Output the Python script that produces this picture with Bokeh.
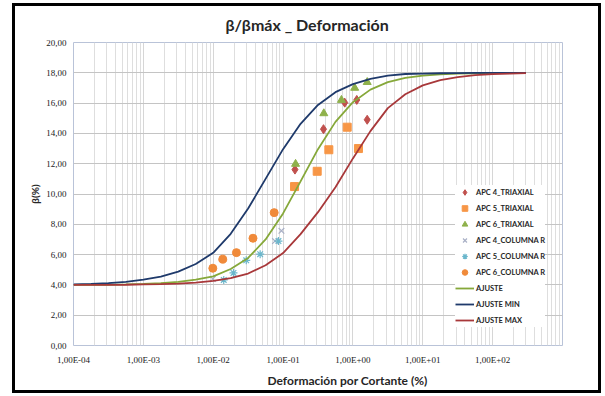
from bokeh.plotting import figure
from bokeh.layouts import column
from bokeh.models import Range1d, FixedTicker, Title
from bokeh.embed import file_html
from bokeh.resources import INLINE

# ---------------- data ----------------
apc4_tri_x = [0.148, 0.379, 0.763, 1.135, 1.60]
apc4_tri_y = [11.61, 14.28, 16.03, 16.21, 14.90]
apc5_tri_x = [0.146, 0.308, 0.452, 0.828, 1.20]
apc5_tri_y = [10.49, 11.50, 12.92, 14.41, 13.00]
apc6_tri_x = [0.151, 0.383, 0.685, 1.06, 1.60]
apc6_tri_y = [11.98, 15.32, 16.20, 17.00, 17.38]
apc4_col_x = [0.00987, 0.0766, 0.0948]
apc4_col_y = [4.39, 6.89, 7.57]
apc5_col_x = [0.01415, 0.0195, 0.0297, 0.047, 0.0859]
apc5_col_y = [4.33, 4.79, 5.62, 6.03, 6.89]
apc6_col_x = [0.00987, 0.0137, 0.0215, 0.0371, 0.0746]
apc6_col_y = [5.10, 5.70, 6.13, 7.08, 8.77]

fit_x = [0.0001, 0.000178, 0.000316, 0.000562, 0.001, 0.00178, 0.00316, 0.00562,
         0.01, 0.0178, 0.0316, 0.0562, 0.1, 0.178, 0.316, 0.562,
         1, 1.78, 3.16, 5.62, 10, 17.8, 31.6, 56.2, 100, 178, 300]
ajuste_y = [4.0, 4.01, 4.01, 4.03, 4.07, 4.12, 4.2, 4.35,
            4.56, 5.05, 5.78, 7.0, 8.72, 10.83, 12.96, 14.76,
            16.06, 16.89, 17.38, 17.66, 17.82, 17.9, 17.95, 17.97, 17.99, 18.0, 18.0]
ajuste_min_y = [4.04, 4.07, 4.12, 4.2, 4.35, 4.55, 4.88, 5.38,
                6.12, 7.37, 9.04, 11.0, 12.96, 14.63, 15.88, 16.72,
                17.25, 17.6, 17.82, 17.92, 17.95, 17.97, 17.98, 17.99, 18.0, 18.0, 18.0]
ajuste_max_y = [4.0, 4.0, 4.0, 4.01, 4.03, 4.05, 4.09, 4.15,
                4.27, 4.45, 4.75, 5.3, 6.1, 7.35, 8.8, 10.45,
                12.35, 14.15, 15.67, 16.58, 17.17, 17.52, 17.72, 17.84, 17.91, 17.95, 17.98]

y_ticks = [0, 2, 4, 6, 8, 10, 12, 14, 16, 18, 20]
y_tick_labels = ["0,00", "2,00", "4,00", "6,00", "8,00", "10,00", "12,00",
                 "14,00", "16,00", "18,00", "20,00"]
x_ticks = [0.0001, 0.001, 0.01, 0.1, 1.0, 10.0, 100.0, 1000.0]
x_tick_labels = ["1,00E-04", "1,00E-03", "1,00E-02", "1,00E-01", "1,00E+00",
                 "1,00E+01", "1,00E+02", ""]
x_minor = [k * 10.0 ** e for e in range(-4, 3) for k in range(2, 10)]

# ---------------- figure ----------------
p = figure(width=583, height=384, x_axis_type="log",
           x_range=Range1d(1e-4, 1e3), y_range=Range1d(0, 20),
           output_backend="svg", toolbar_location=None,
           min_border_left=58, min_border_right=36,
           min_border_top=36, min_border_bottom=43,
           background_fill_color="white", border_fill_color="white")

p.title.text = "β/βmáx _ Deformación"
p.title.align = "left"
p.title.offset = 152
p.title.vertical_align = "top"
p.title.standoff = 14
p.title.text_font = "Lato"
p.title.text_font_size = "16px"
p.title.text_font_style = "bold"
p.title.text_color = "#262626"

xt = FixedTicker(ticks=x_ticks, minor_ticks=x_minor)
p.xaxis.ticker = xt
p.xgrid.ticker = xt
p.xaxis.major_label_overrides = dict(zip(x_ticks, x_tick_labels))
yt = FixedTicker(ticks=y_ticks)
p.yaxis.ticker = yt
p.ygrid.ticker = yt
p.yaxis.major_label_overrides = dict(zip(y_ticks, y_tick_labels))

for ax in (p.xaxis[0], p.yaxis[0]):
    ax.axis_line_color = None
    ax.major_tick_line_color = None
    ax.minor_tick_line_color = None
    ax.major_tick_out = 0
    ax.major_tick_in = 0
    ax.minor_tick_out = 0
    ax.minor_tick_in = 0
    ax.major_label_text_font = "Liberation Serif"
    ax.major_label_text_font_size = "9px"
    ax.major_label_text_color = "#1a1a1a"
p.xaxis.major_label_standoff = 9
p.yaxis.major_label_standoff = 7

p.yaxis.axis_label = "β(%)"
p.yaxis.axis_label_text_font = "Lato"
p.yaxis.axis_label_text_font_size = "10px"
p.yaxis.axis_label_text_font_style = "bold"
p.yaxis.axis_label_text_color = "#262626"
p.yaxis.axis_label_standoff = 2

xtitle = Title(text="Deformación por Cortante (%)", align="left", offset=194,
               vertical_align="bottom", standoff=6,
               text_font="Lato", text_font_size="12px", text_font_style="bold",
               text_color="#262626")
p.add_layout(xtitle, "below")

p.outline_line_color = "#b9c3d8"
p.outline_line_width = 1
p.xgrid.grid_line_color = "#d6d6d6"
p.xgrid.minor_grid_line_color = "#dedede"
p.ygrid.grid_line_color = "#c4c4c4"

# ---------------- series ----------------
p.scatter(apc4_tri_x, apc4_tri_y, marker="diamond", size=9,
          color="#c0504d", legend_label="APC 4_TRIAXIAL")
p.scatter(apc5_tri_x, apc5_tri_y, marker="square", size=8,
          color="#f79646", legend_label="APC 5_TRIAXIAL")
p.scatter(apc6_tri_x, apc6_tri_y, marker="triangle", size=8,
          color="#8fb14b", legend_label="APC 6_TRIAXIAL")
p.scatter(apc4_col_x, apc4_col_y, marker="x", size=8, line_width=1.2,
          color="#a9b0c6", legend_label="APC 4_COLUMNA R")
p.scatter(apc5_col_x, apc5_col_y, marker="asterisk", size=8, line_width=1.2,
          color="#6bb7cc", legend_label="APC 5_COLUMNA R")
p.scatter(apc6_col_x, apc6_col_y, marker="circle", size=8,
          color="#f08a3a", legend_label="APC 6_COLUMNA R")
p.line(fit_x, ajuste_y, line_width=1.8, color="#86a83a", legend_label="AJUSTE")
p.line(fit_x, ajuste_min_y, line_width=1.8, color="#1f3a6b", legend_label="AJUSTE MIN")
p.line(fit_x, ajuste_max_y, line_width=1.8, color="#a8383a", legend_label="AJUSTE MAX")

lg = p.legend[0]
lg.location = (382, 18)
lg.border_line_color = None
lg.background_fill_color = "white"
lg.background_fill_alpha = 1.0
lg.padding = 2
lg.margin = 0
lg.spacing = 2
lg.glyph_width = 19
lg.glyph_height = 14
lg.label_height = 14
lg.label_standoff = 2
lg.label_text_font = "Lato"
lg.label_text_font_size = "7.5px"
lg.label_text_font_style = "bold"
lg.label_text_color = "#262626"

page = column(p, styles={"border": "3px solid black",
                         "margin-left": "12px", "margin-top": "3px",
                         "background-color": "white"})

open("out.html", "w").write(file_html(page, INLINE))
